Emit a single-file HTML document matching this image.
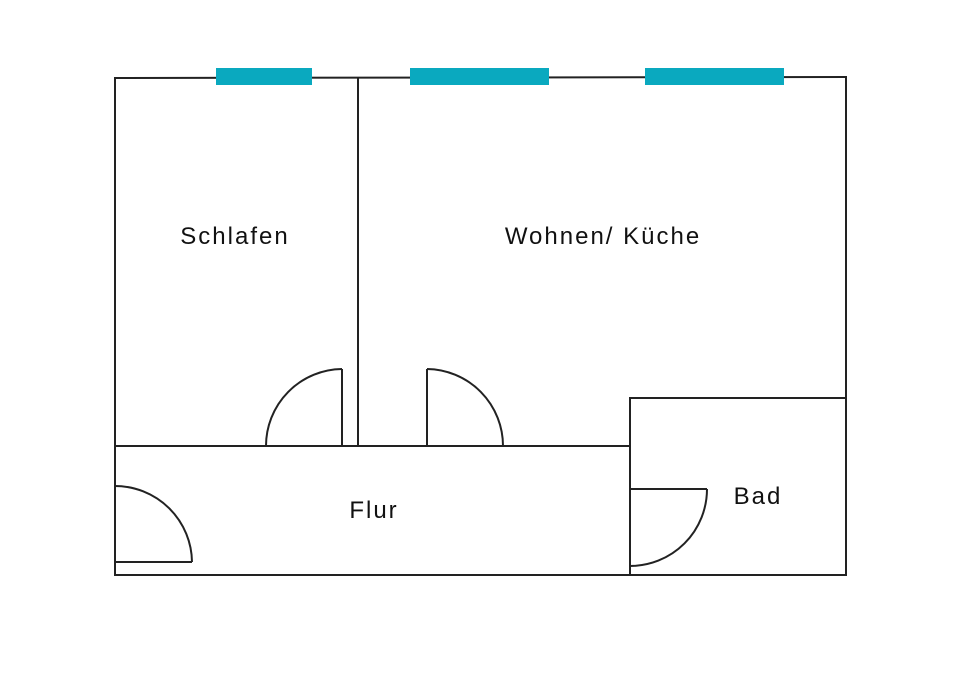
<!DOCTYPE html>
<html><head><meta charset="utf-8"><style>
html,body{margin:0;padding:0;background:#fff;}
svg{display:block}
text{font-family:"Liberation Sans",sans-serif;font-size:24px;letter-spacing:2px;fill:#111;}
</style></head><body>
<svg width="960" height="679" viewBox="0 0 960 679" xmlns="http://www.w3.org/2000/svg">
<g stroke="#222" stroke-width="2" fill="none">
<line x1="114" y1="78" x2="847" y2="77"/>
<line x1="115" y1="77" x2="115" y2="576"/>
<line x1="846" y1="76" x2="846" y2="398"/>
<line x1="629" y1="398" x2="847" y2="398"/>
<line x1="846" y1="397" x2="846" y2="576"/>
<line x1="630" y1="398" x2="630" y2="576"/>
<line x1="114" y1="575" x2="847" y2="575"/>
<line x1="114" y1="446" x2="630" y2="446"/>
<line x1="358" y1="78" x2="358" y2="446"/>
<line x1="342" y1="369" x2="342" y2="446"/>
<path d="M342 369 A77 77 0 0 0 266 446"/>
<line x1="427" y1="369" x2="427" y2="446"/>
<path d="M427 369 A77 77 0 0 1 503 446"/>
<line x1="115" y1="562" x2="192" y2="562"/>
<path d="M115 486 A77 77 0 0 1 192 562"/>
<line x1="630" y1="489" x2="707" y2="489"/>
<path d="M707 489 A77 77 0 0 1 630 566"/>
</g>
<g fill="#0aa9bf">
<rect x="216" y="68" width="96" height="17"/>
<rect x="410" y="68" width="139" height="17"/>
<rect x="645" y="68" width="139" height="17"/>
</g>
<text x="235" y="244" text-anchor="middle">Schlafen</text>
<text x="603" y="244" text-anchor="middle">Wohnen/ Küche</text>
<text x="374" y="518" text-anchor="middle">Flur</text>
<text x="758" y="504" text-anchor="middle">Bad</text>
</svg>
</body></html>
